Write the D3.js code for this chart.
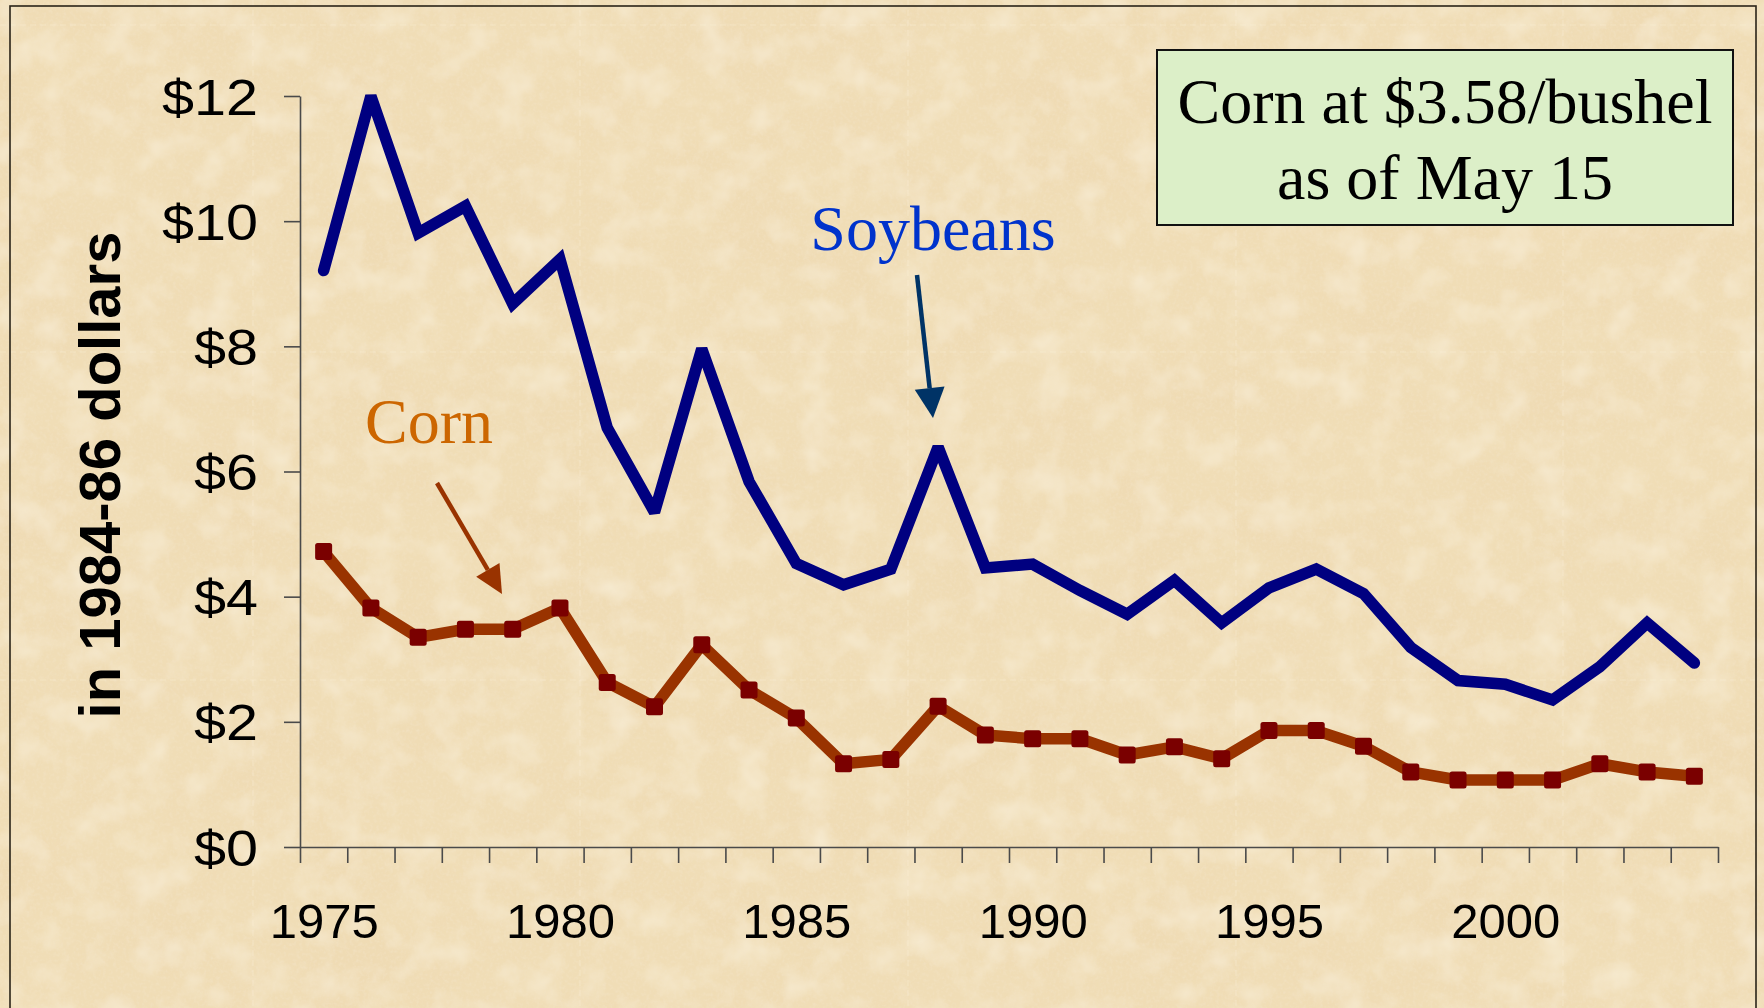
<!DOCTYPE html>
<html>
<head>
<meta charset="utf-8">
<script src="https://cdn.jsdelivr.net/npm/d3@7"></script>
<style>
  html, body { margin: 0; padding: 0; background: #EFDDB8; }
  svg { display: block; }
</style>
</head>
<body>
<svg id="chart" width="1764" height="1008"></svg>
<script>
// ---------- data ----------
const years = d3.range(1975, 2005);
const soybeans = [9.21, 12.0, 9.81, 10.24, 8.68, 9.39, 6.70, 5.35, 7.96, 5.84,
                  4.53, 4.19, 4.44, 6.39, 4.46, 4.52, 4.10, 3.72, 4.26, 3.58,
                  4.14, 4.44, 4.05, 3.19, 2.66, 2.60, 2.35, 2.88, 3.58, 2.94];
const corn     = [4.72, 3.82, 3.35, 3.48, 3.48, 3.82, 2.63, 2.24, 3.23, 2.51,
                  2.06, 1.33, 1.40, 2.25, 1.79, 1.73, 1.73, 1.47, 1.60, 1.41,
                  1.86, 1.86, 1.61, 1.20, 1.07, 1.07, 1.07, 1.33, 1.20, 1.13];
const yTicks = [0, 2, 4, 6, 8, 10, 12];
const xLabelYears = [1975, 1980, 1985, 1990, 1995, 2000];
const yTitle = "in 1984-86 dollars";
const seriesLabels = ["Soybeans", "Corn"];
const noteLines = ["Corn at $3.58/bushel", "as of May 15"];

// ---------- setup ----------
const W = 1764, H = 1008;
const svg = d3.select("#chart");
const defs = svg.append("defs");

// parchment texture
const f = defs.append("filter").attr("id", "paper")
  .attr("filterUnits", "userSpaceOnUse")
  .attr("x", 0).attr("y", 0).attr("width", W).attr("height", H);
f.append("feTurbulence").attr("type", "fractalNoise")
  .attr("baseFrequency", "0.010 0.014").attr("numOctaves", 4).attr("seed", 7).attr("result", "n1");
f.append("feColorMatrix").attr("in", "n1").attr("type", "matrix")
  .attr("values", "0 0 0 0 0.86  0 0 0 0 0.70  0 0 0 0 0.45  1.5 0 0 0 -0.60").attr("result", "spots");
f.append("feTurbulence").attr("type", "fractalNoise")
  .attr("baseFrequency", "0.03").attr("numOctaves", 3).attr("seed", 11).attr("result", "n3");
f.append("feColorMatrix").attr("in", "n3").attr("type", "matrix")
  .attr("values", "0 0 0 0 0.97  0 0 0 0 0.91  0 0 0 0 0.77  1.1 0 0 0 -0.50").attr("result", "light");
f.append("feTurbulence").attr("type", "fractalNoise")
  .attr("baseFrequency", "0.3").attr("numOctaves", 2).attr("seed", 3).attr("result", "n2");
f.append("feColorMatrix").attr("in", "n2").attr("type", "matrix")
  .attr("values", "0 0 0 0 0.90  0 0 0 0 0.78  0 0 0 0 0.58  1.0 0 0 0 -0.45").attr("result", "grain");
f.append("feMerge").call(m => {
  m.append("feMergeNode").attr("in", "spots");
  m.append("feMergeNode").attr("in", "light");
  m.append("feMergeNode").attr("in", "grain");
});

svg.append("rect").attr("width", W).attr("height", H).attr("fill", "#F0DDB6");
svg.append("rect").attr("width", W).attr("height", H).attr("fill", "#fff").attr("filter", "url(#paper)");

// faint tile seams of the texture
const seams = svg.append("g").attr("stroke", "#FFF6E0").attr("stroke-opacity", 0.3).attr("stroke-width", 1.2)
  .attr("stroke-dasharray", "6 4");
[25, 352, 680].forEach(yy => seams.append("line").attr("x1", 0).attr("x2", W).attr("y1", yy).attr("y2", yy));
[253, 580, 908, 1236, 1563].forEach(xx => seams.append("line").attr("y1", 0).attr("y2", H).attr("x1", xx).attr("x2", xx));

// outer frame
svg.append("rect").attr("x", 10).attr("y", 6).attr("width", 1746).attr("height", 1020)
  .attr("fill", "none").attr("stroke", "#2a2418").attr("stroke-width", 1.6);

// ---------- scales ----------
const plot = { left: 300, right: 1718, top: 96, bottom: 847 };
const x = d3.scaleLinear().domain([1974.5, 2004.5]).range([plot.left, plot.right]);
const y = d3.scaleLinear().domain([0, 12]).range([plot.bottom, plot.top]);

// ---------- axes ----------
const axisColor = "#4a4a4a";
const yAxis = svg.append("g").attr("transform", `translate(${plot.left},0)`)
  .call(d3.axisLeft(y).tickValues(yTicks).tickFormat(d => "$" + d).tickSize(16).tickSizeOuter(0).tickPadding(26));
yAxis.selectAll("path, line").attr("stroke", axisColor).attr("stroke-width", 1.6);
yAxis.selectAll("text").attr("font-family", "'Liberation Sans', Arial, sans-serif")
  .attr("font-size", 50).attr("fill", "#000").attr("dy", "0.36em")
  .attr("x", 0).attr("transform", "translate(-42,0) scale(1.15,1)");

const xTicksG = svg.append("g").attr("transform", `translate(0,${plot.bottom})`)
  .call(d3.axisBottom(x).tickValues(d3.range(1974.5, 2005, 1)).tickFormat("").tickSize(16).tickSizeOuter(0));
xTicksG.selectAll("path, line").attr("stroke", axisColor).attr("stroke-width", 1.6);

const xLabels = svg.append("g").attr("transform", `translate(0,${plot.bottom})`)
  .call(d3.axisBottom(x).tickValues(xLabelYears).tickFormat(d3.format("d")).tickSize(0));
xLabels.select(".domain").remove();
xLabels.selectAll("text").attr("font-family", "'Liberation Sans', Arial, sans-serif")
  .attr("font-size", 49).attr("fill", "#000").attr("y", 91).attr("dy", 0);

// y title
svg.append("text")
  .attr("transform", "translate(120,475) rotate(-90)")
  .attr("text-anchor", "middle")
  .attr("font-family", "'Liberation Sans', Arial, sans-serif")
  .attr("font-weight", "bold").attr("font-size", 58).attr("fill", "#000")
  .text(yTitle);

// ---------- lines ----------
const line = d3.line().x((d, i) => x(years[i])).y(d => y(d));

svg.append("path").datum(corn)
  .attr("d", line).attr("fill", "none").attr("stroke", "#993300")
  .attr("stroke-width", 11.5).attr("stroke-linejoin", "round");

svg.append("g").selectAll("rect").data(corn).join("rect")
  .attr("x", (d, i) => x(years[i]) - 8.5).attr("y", d => y(d) - 8.5)
  .attr("width", 17).attr("height", 17).attr("rx", 2.5)
  .attr("fill", "#7A0000");

svg.append("path").datum(soybeans)
  .attr("d", line).attr("fill", "none").attr("stroke", "#000080")
  .attr("stroke-width", 11.5).attr("stroke-linejoin", "miter").attr("stroke-miterlimit", 2.5)
  .attr("stroke-linecap", "round");

// ---------- annotations ----------
function arrow(x1, y1, x2, y2, color, headLen, headW) {
  const ang = Math.atan2(y2 - y1, x2 - x1);
  const bx = x2 - headLen * Math.cos(ang), by = y2 - headLen * Math.sin(ang);
  svg.append("line").attr("x1", x1).attr("y1", y1).attr("x2", bx).attr("y2", by)
    .attr("stroke", color).attr("stroke-width", 4.5);
  const px = -Math.sin(ang) * headW / 2, py = Math.cos(ang) * headW / 2;
  svg.append("path")
    .attr("d", `M${x2},${y2}L${bx + px},${by + py}L${bx - px},${by - py}Z`)
    .attr("fill", color);
}

svg.append("text").attr("x", 933).attr("y", 250).attr("text-anchor", "middle")
  .attr("font-family", "'Liberation Serif', 'Times New Roman', serif")
  .attr("font-size", 64).attr("fill", "#0033CC").text(seriesLabels[0]);
arrow(917, 275, 933, 418, "#003366", 30, 30);

svg.append("text").attr("x", 429).attr("y", 443).attr("text-anchor", "middle")
  .attr("font-family", "'Liberation Serif', 'Times New Roman', serif")
  .attr("font-size", 64).attr("fill", "#CC6600").text(seriesLabels[1]);
arrow(437, 483, 502, 594, "#993300", 28, 27);

// note box
svg.append("rect").attr("x", 1157).attr("y", 50).attr("width", 576).attr("height", 175)
  .attr("fill", "#DCEFC8").attr("stroke", "#111").attr("stroke-width", 2);
svg.append("g").selectAll("text").data(noteLines).join("text")
  .attr("x", 1445).attr("y", (d, i) => 123 + i * 76)
  .attr("text-anchor", "middle")
  .attr("font-family", "'Liberation Serif', 'Times New Roman', serif")
  .attr("font-size", 64).attr("fill", "#000").text(d => d);
</script>
</body>
</html>
